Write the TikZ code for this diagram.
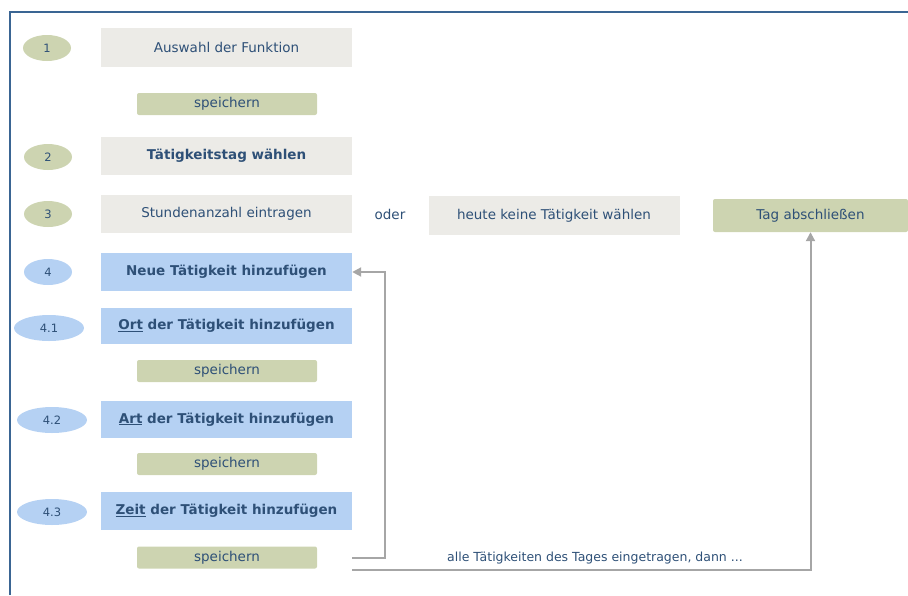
\documentclass[tikz,border=0pt]{standalone}
\usepackage{fontspec}
\setmainfont{DejaVu Sans}
\usepackage{tikz}
\usetikzlibrary{arrows.meta, shapes.geometric}
\definecolor{TextBlue}{RGB}{46,80,119}
\definecolor{FrameBlue}{RGB}{58,101,147}
\definecolor{BoxGrey}{RGB}{236,235,231}
\definecolor{SaveGreen}{RGB}{205,212,177}
\definecolor{StepBlue}{RGB}{181,209,243}
\definecolor{LineGrey}{RGB}{166,166,166}
\tikzset{every picture/.style={/utils/exec={\fontsize{13.5}{16}\selectfont}}}

\begin{document}
\begin{tikzpicture}[x=1pt, y=-1pt, text=TextBlue,
    greybox/.style={rectangle, fill=BoxGrey, minimum width=251pt, minimum height=38pt, inner sep=0pt},
    bluebox/.style={greybox, fill=StepBlue, font=\bfseries},
    savebtn/.style={rectangle, rounded corners=2pt, fill=SaveGreen, minimum width=180pt, minimum height=22pt, inner sep=0pt},
    numgreen/.style={ellipse, fill=SaveGreen, minimum width=48pt, minimum height=26pt, inner sep=0pt, font=\fontsize{11.5}{13}\selectfont},
    numblue/.style={numgreen, fill=StepBlue},
    flow/.style={draw=LineGrey, line width=2pt, -{Triangle[length=9pt, width=9pt]}}]
            \useasboundingbox (0,0) rectangle (908,595);
            \draw[FrameBlue, line width=2pt] (10,595) -- (10,12) -- (908,12);

            \node[numgreen] (1) at (47,48) {1};
            \node[greybox, minimum height=39pt] (f1) at (226.5,47.5) {Auswahl der Funktion};
            \node[savebtn] (s1) at (227,104) {speichern};

            \node[numgreen] (2) at (48,157) {2};
            \node[greybox, font=\bfseries] (f2) at (226.5,156) {Tätigkeitstag wählen};

            \node[numgreen] (3) at (48,214) {3};
            \node[greybox] (f3) at (226.5,214) {Stundenanzahl eintragen};
            \node (oder) at (390,214) {oder};
            \node[greybox, minimum height=39pt] (keine) at (554,215.5) {heute keine Tätigkeit wählen};
            \node[savebtn, minimum width=195pt, minimum height=33pt] (tag) at (810.5,215.5) {Tag abschließen};

            \node[numblue] (4) at (48,272) {4};
            \node[bluebox] (f4) at (226.5,272) {Neue Tätigkeit hinzufügen};

            \node[numblue, minimum width=70pt] (41) at (49,328) {4.1};
            \node[bluebox, minimum height=36pt] (f41) at (226.5,326) {\underline{Ort} der Tätigkeit hinzufügen};
            \node[savebtn] (s41) at (227,371) {speichern};

            \node[numblue, minimum width=70pt] (42) at (52,420) {4.2};
            \node[bluebox, minimum height=37pt] (f42) at (226.5,419.5) {\underline{Art} der Tätigkeit hinzufügen};
            \node[savebtn] (s42) at (227,464) {speichern};

            \node[numblue, minimum width=70pt] (43) at (52,512) {4.3};
            \node[bluebox] (f43) at (226.5,511) {\underline{Zeit} der Tätigkeit hinzufügen};
            \node[savebtn] (s43) at (227,557.5) {speichern};

            \coordinate (back) at (352,558);
            \coordinate (done) at (352,570);
            \draw[flow] (back) -- ++(33,0) |- (f4.east);
            \draw[flow] (done) -| node[pos=0.265, above=0pt, font=\fontsize{12.5}{15}\selectfont] {alle Tätigkeiten des Tages eingetragen, dann ...} (tag.south);
        \end{tikzpicture}
\end{document}
